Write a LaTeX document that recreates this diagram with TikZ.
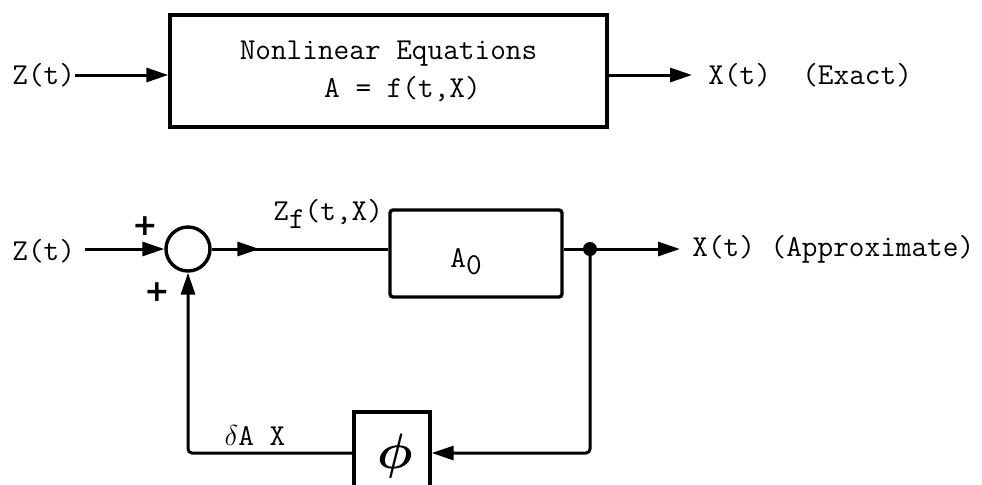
\documentclass[tikz,border=0pt]{standalone}
\usepackage{fontspec}
\newfontfamily\plusfont{DejaVu Sans}
\usepackage{bm}
\usetikzlibrary{arrows.meta,decorations.markings}
\tikzset{
  lbl/.style={inner sep=0pt, font=\fontsize{15.2}{19}\selectfont\ttfamily},
  blk/.style={draw, line width=1.7pt, inner sep=0pt},
  wire/.style={line width=1.5pt},
  arr/.style={wire, -{Triangle[length=11pt,width=7pt]}},
  midarr/.style={wire, decoration={markings, mark=at position #1 with {\arrow{Triangle[length=11pt,width=7pt]}}}, postaction=decorate},
  plus/.style={inner sep=0pt, font=\fontsize{15}{15}\selectfont\plusfont\bfseries}
}
\begin{document}
\begin{tikzpicture}[x=0.5pt,y=-0.5pt]
\useasboundingbox (0,0) rectangle (982,484);
% ---------- top: exact ----------
\node[lbl, anchor=west] (zt1) at (12,75) {Z(t)};
\node[blk, minimum width=218.5pt, minimum height=56pt, align=center, lbl] (box1) at (388.5,71)
  {Nonlinear Equations\\\hspace*{14pt}A = f(t,X)};
\node[lbl, anchor=west] (xt1) at (708,75) {X(t)~~(Exact)};
\draw[arr] (zt1.east) -- (zt1.east -| box1.west);
\draw[arr] (box1.east |- zt1.east) -- ([xshift=-8pt]xt1.west);
% ---------- bottom: approximate ----------
\node[lbl, anchor=west] (zt2) at (12,251) {Z(t)};
\node[draw, circle, line width=1.7pt, minimum size=22pt, inner sep=0pt] (sum) at (188,249) {};
\node[plus] (p1) at (145,226) {+};
\node[plus] (p2) at (157,292) {+};
\node[blk, rounded corners=1.5pt, minimum width=86pt, minimum height=43.5pt] (a0) at (476,253.5) {};
\node[lbl] (a0t) at (466,262) {A\raisebox{-0.55ex}{0}};
\node[lbl, anchor=west] (zf) at (273,214) {Z\raisebox{-0.6ex}{f}(t,X)};
\node[lbl, anchor=west] (xt2) at (692,249) {X(t) (Approximate)};
\coordinate (j) at (590,249);
\node[blk, minimum width=38pt, minimum height=41pt] (phi) at (392,453) {};
\node[inner sep=0pt, font=\fontsize{27}{27}\selectfont] (phit) at (395,456) {$\bm{\phi}$};
\node[lbl] (dax) at (255,435) {$\delta$A X};
\draw[arr] ([xshift=5pt]zt2.east |- sum.west) -- (sum.west);
\draw[midarr=0.27] (sum.east) -- (sum.east -| a0.west);
\draw[arr] (a0.east |- j) -- ([xshift=-6pt]xt2.west);
\fill (j) circle (3.5pt);
\draw[arr, rounded corners=2pt] (j) |- (phi.east);
\draw[arr, rounded corners=2pt] (phi.west) -| (sum.south);
\end{tikzpicture}
\end{document}
